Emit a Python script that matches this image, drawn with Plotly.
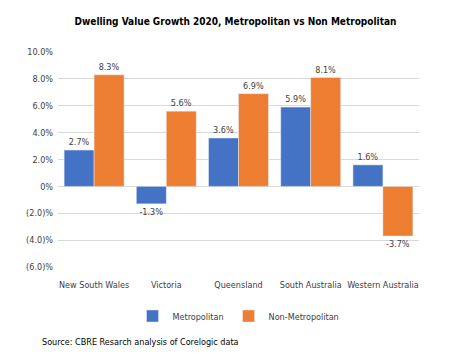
import plotly.graph_objects as go

categories = ["New South Wales", "Victoria", "Queensland", "South Australia", "Western Australia"]
metro = [2.7, -1.3, 3.6, 5.9, 1.6]
non_metro = [8.3, 5.6, 6.9, 8.1, -3.7]
tick_vals = [-6, -4, -2, 0, 2, 4, 6, 8, 10]
tick_text = ["(6.0)%", "(4.0)%", "(2.0)%", "0%", "2.0%", "4.0%", "6.0%", "8.0%", "10.0%"]

FONT = "Liberation Sans Narrow, DejaVu Sans Condensed, Arial Narrow, sans-serif"

fig = go.Figure()
fig.add_bar(x=categories, y=metro, name="Metropolitan", marker_color="#4472C4",
            text=[f"{v:.1f}%" for v in metro], textposition="outside",
            textfont=dict(size=9, color="#404040"), cliponaxis=False)
fig.add_bar(x=categories, y=non_metro, name="Non-Metropolitan", marker_color="#ED7D31",
            text=[f"{v:.1f}%" for v in non_metro], textposition="outside",
            textfont=dict(size=9, color="#404040"), cliponaxis=False)

# page body adds an 8px offset; positions below are in figure coordinates
OFF = 8
W, H = 455, 355
ml, mr, mt, mb = 58 - OFF, 44, 52 - OFF, H - (267 - OFF)
ph = H - mt - mb
fig.update_layout(
    width=W, height=H,
    margin=dict(l=ml, r=mr, t=mt, b=mb, autoexpand=False),
    paper_bgcolor="white", plot_bgcolor="white",
    font=dict(family=FONT, size=9, color="#404040"),
    barmode="group", bargap=0.17, bargroupgap=0,
    title=dict(text="<b>Dwelling Value Growth 2020, Metropolitan vs Non Metropolitan</b>",
               x=0.5, xanchor="center", y=1 - (21 - OFF) / H, yanchor="middle",
               font=dict(size=10, color="#000000", family=FONT)),
    showlegend=True,
    legend=dict(orientation="h", x=0.5, xanchor="center", y=1 - (316 - OFF - mt) / ph,
                yanchor="middle", yref="paper", font=dict(size=9, color="#404040"),
                itemwidth=30, traceorder="normal"),
    xaxis=dict(showgrid=False, showline=False, ticks="", tickangle=0, automargin=False,
               ticklabelstandoff=11, tickfont=dict(size=9, color="#404040")),
    yaxis=dict(range=[-6, 10], tickvals=tick_vals, ticktext=tick_text, showgrid=True, automargin=False,
               gridcolor="#D9D9D9", gridwidth=1, zeroline=True, zerolinecolor="#D9D9D9",
               zerolinewidth=1, ticks="", tickfont=dict(size=9, color="#404040"), ticklabelstandoff=4),
    annotations=[dict(text="Source: CBRE Resarch analysis of Corelogic data", xref="paper", yref="paper",
                      x=(40 - OFF - ml) / (W - ml - mr), y=1 - (342 - OFF - mt) / ph,
                      xanchor="left", yanchor="middle", showarrow=False,
                      font=dict(size=9, color="#000000", family=FONT))],
)
fig.write_html("out.html")
